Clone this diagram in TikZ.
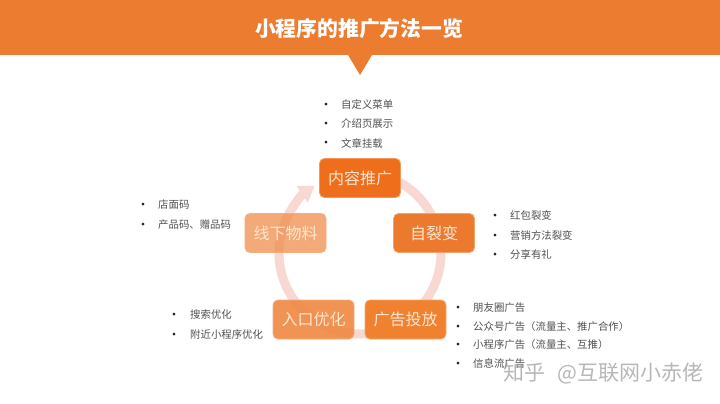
\documentclass[tikz,border=0pt]{standalone}
\usepackage{fontspec}
\setmainfont{Noto Sans CJK SC}
\usetikzlibrary{arrows.meta}
\definecolor{hdr}{HTML}{EC7C30}
\definecolor{ringc}{HTML}{F7D8D2}
\definecolor{itemc}{HTML}{505050}
\definecolor{boxtxt}{HTML}{FCE6D2}
\definecolor{boxa}{HTML}{EE6E1C}
\definecolor{boxb}{HTML}{EC7A2E}
\definecolor{boxc}{HTML}{EF812F}
\definecolor{boxd}{HTML}{F08A45}
\tikzset{
  box/.style={draw=#1!70!white,line width=0.8pt,rounded corners=5pt,minimum width=81pt,minimum height=39pt,inner sep=0pt,
    fill=#1,text=boxtxt,font=\fontsize{16}{18}\selectfont},
  item/.style={anchor=west,inner sep=0pt,text=itemc,font=\fontsize{10.4}{12}\selectfont},
  dot/.style={inner sep=0pt,yshift=-1pt,text=black!85,font=\fontsize{13}{14}\selectfont},
}
\begin{document}
\begin{tikzpicture}[x=1pt,y=-1pt]
\useasboundingbox (0,0) rectangle (720,404);
\fill[white] (0,0) rectangle (720,404);
% header
\fill[hdr] (0,0) rectangle (720,55);
\fill[hdr] (348,55) -- (372,55) -- (360,75) -- cycle;
\node[text=white,font=\fontsize{20.8}{24}\selectfont\bfseries,inner sep=0pt] (title) at (359,29) {小程序的推广方法一览};
% ring
\coordinate (c) at (360,253);
\draw[ringc,line width=9pt,-{Triangle[length=15pt,width=19pt]}]
  ([shift={(68:81pt)}]c) arc[start angle=68,end angle=-236,radius=81pt];
% boxes
\node[box=boxa] (nr) at (360,178) {内容推广};
\node[box=boxb] (zl) at (434,233) {自裂变};
\node[box=boxd,fill opacity=.72,text opacity=1] (xx) at (285.5,233) {线下物料};
\node[box=boxd,fill opacity=.92,text opacity=1] (rk) at (313.5,319.5) {入口优化};
\node[box=boxc] (gg) at (405.5,319.5) {广告投放};
% lists
\foreach \n/\y/\t in {a/105/自定义菜单,b/124/介绍页展示,c/143/文章挂载}{
  \node[dot] (t\n d) at (326,\y) {•};
  \node[item] (t\n) at (341,\y) {\t};}
\foreach \n/\y/\t in {a/205/店面码,b/225/产品码、赠品码}{
  \node[dot] (l\n d) at (143,\y) {•};
  \node[item] (l\n) at (158,\y) {\t};}
\foreach \n/\y/\t in {a/216/红包裂变,b/236/营销方法裂变,c/255/分享有礼}{
  \node[dot] (r\n d) at (495,\y) {•};
  \node[item] (r\n) at (510,\y) {\t};}
\foreach \n/\y/\t in {a/315/搜索优化,b/335/附近小程序优化}{
  \node[dot] (b\n d) at (174,\y) {•};
  \node[item] (b\n) at (190,\y) {\t};}
\foreach \n/\y/\t in {a/308/朋友圈广告,b/327/公众号广告（流量主、推广合作）,c/345/小程序广告（流量主、互推）,d/364/信息流广告}{
  \node[dot] (g\n d) at (458,\y) {•};
  \node[item] (g\n) at (473,\y) {\t};}
% watermark
\node[anchor=west,inner sep=0pt,text=black!40,opacity=.7,font=\fontsize{21}{24}\selectfont] (wm) at (503,373) {知乎\hspace{12pt}@互联网小赤佬};
\end{tikzpicture}
\end{document}
